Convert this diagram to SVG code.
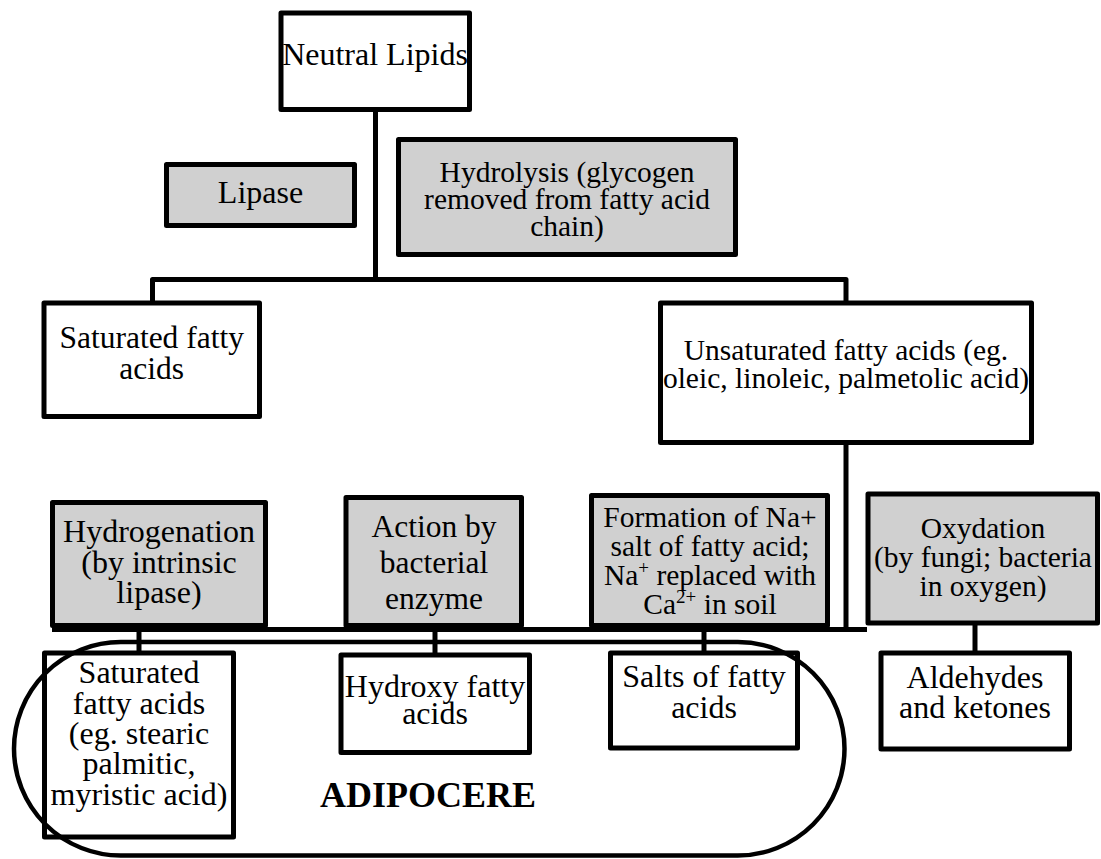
<svg xmlns="http://www.w3.org/2000/svg" width="1101" height="859" viewBox="0 0 1101 859">
<style>
.box{stroke:#000;stroke-width:5;stroke-linejoin:round}
.w{fill:#fff}
.g{fill:#d0d0d0}
.conn{stroke:#000;stroke-width:5;fill:none;stroke-linejoin:round}
text{font-family:"Liberation Serif","Times New Roman",serif;text-anchor:middle;fill:#000}
.f32{font-size:32px}
.f31{font-size:31.5px}
.f29{font-size:29.5px}
.sup{font-size:19px}
.title{font-size:36px;font-weight:bold}
</style>
<rect width="1101" height="859" fill="#fff"/>
<g id="connectors">
<path class="conn" d="M375.5 111 V279.5"/>
<path class="conn" d="M152.5 302 V279.5 H846 V302"/>
<path class="conn" d="M846 444 V629.5"/>
<path class="conn" d="M52 629.5 H867"/>
<path class="conn" d="M139 629 V654"/>
<path class="conn" d="M435 629 V656"/>
<path class="conn" d="M704 629 V654"/>
<path class="conn" d="M975 624 V654"/>
</g>
<g id="neutral-lipids">
<rect class="box w" x="281" y="13" width="188.5" height="96.5"/>
<text class="f32" x="375" y="65">Neutral Lipids</text>
</g>
<g id="lipase">
<rect class="box g" x="166.5" y="164.5" width="188" height="61"/>
<text class="f32" x="260.5" y="203">Lipase</text>
</g>
<g id="hydrolysis">
<rect class="box g" x="398.5" y="139.5" width="337" height="115"/>
<text class="f29" x="567" y="182">Hydrolysis (glycogen</text>
<text class="f29" x="567" y="209">removed from fatty acid</text>
<text class="f29" x="567" y="236">chain)</text>
</g>
<g id="saturated-top">
<rect class="box w" x="44" y="303" width="215.5" height="113.5"/>
<text class="f31" x="151.7" y="348">Saturated fatty</text>
<text class="f31" x="151.7" y="379">acids</text>
</g>
<g id="unsaturated">
<rect class="box w" x="660.5" y="303" width="371" height="139.5"/>
<text class="f29" x="846" y="360">Unsaturated fatty acids (eg.</text>
<text class="f29" x="846" y="388">oleic, linoleic, palmetolic acid)</text>
</g>
<g id="hydrogenation">
<rect class="box g" x="52.5" y="502.5" width="213" height="123"/>
<text class="f32" x="159" y="542">Hydrogenation</text>
<text class="f32" x="159" y="573">(by intrinsic</text>
<text class="f32" x="159" y="603">lipase)</text>
</g>
<g id="action">
<rect class="box g" x="346" y="497.5" width="175.5" height="128"/>
<text class="f31" x="434" y="537">Action by</text>
<text class="f31" x="434" y="573">bacterial</text>
<text class="f31" x="434" y="609">enzyme</text>
</g>
<g id="sodium-salt">
<rect class="box g" x="591.5" y="495.5" width="236" height="130"/>
<text class="f29" x="710" y="527">Formation of Na+</text>
<text class="f29" x="710" y="556">salt of fatty acid;</text>
<text class="f29" x="710" y="585">Na<tspan class="sup" dy="-11">+</tspan><tspan dy="11"> replaced with</tspan></text>
<text class="f29" x="710" y="614">Ca<tspan class="sup" dy="-11">2+</tspan><tspan dy="11"> in soil</tspan></text>
</g>
<g id="oxydation">
<rect class="box g" x="868" y="494" width="229.5" height="129"/>
<text class="f29" x="983" y="538">Oxydation</text>
<text class="f29" x="983" y="567">(by fungi; bacteria</text>
<text class="f29" x="983" y="596">in oxygen)</text>
</g>
<g id="saturated-bottom">
<rect class="box w" x="44.5" y="653" width="189" height="184"/>
<text class="f32" x="139" y="683">Saturated</text>
<text class="f32" x="139" y="714">fatty acids</text>
<text class="f32" x="139" y="744">(eg. stearic</text>
<text class="f32" x="139" y="774">palmitic,</text>
<text class="f32" x="139" y="805">myristic acid)</text>
</g>
<g id="hydroxy">
<rect class="box w" x="341" y="655" width="188.5" height="97.5"/>
<text class="f32" x="435" y="697">Hydroxy fatty</text>
<text class="f32" x="435" y="724">acids</text>
</g>
<g id="salts">
<rect class="box w" x="610.5" y="653" width="187" height="95"/>
<text class="f32" x="704" y="687">Salts of fatty</text>
<text class="f32" x="704" y="718">acids</text>
</g>
<g id="aldehydes">
<rect class="box w" x="881" y="653" width="188.5" height="96"/>
<text class="f32" x="975" y="688">Aldehydes</text>
<text class="f32" x="975" y="718">and ketones</text>
</g>
<g id="adipocere">
<rect x="14" y="642" width="830.5" height="213.5" rx="106.75" ry="106.75" fill="none" stroke="#000" stroke-width="4.5"/>
<text class="title" x="428" y="807">ADIPOCERE</text>
</g>
</svg>
